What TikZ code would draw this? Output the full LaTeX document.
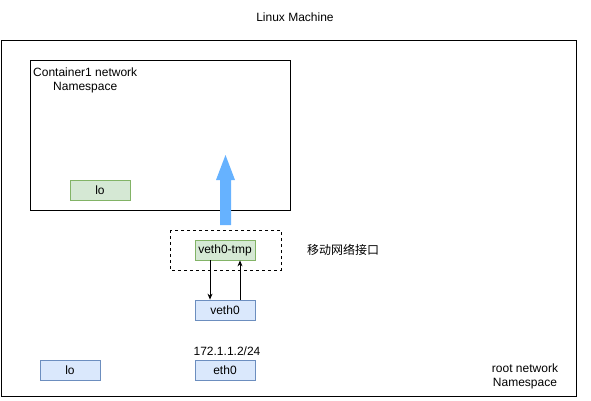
\documentclass[tikz,border=0pt]{standalone}
\usepackage{fontspec}
\setmainfont{Liberation Sans}
\newfontfamily\cjk{Noto Sans CJK SC}
\usetikzlibrary{arrows.meta}
\definecolor{greenfill}{HTML}{D5E8D4}
\definecolor{greenline}{HTML}{82B366}
\definecolor{bluefill}{HTML}{DAE8FC}
\definecolor{blueline}{HTML}{6C8EBF}
\definecolor{bigarrow}{HTML}{66B2FF}
\tikzset{
  ifbox/.style={draw=#1line,fill=#1fill,line width=.8pt,minimum width=60pt,minimum height=20pt,inner sep=0pt},
  lbl/.style={inner sep=0pt,align=center},
}
\begin{document}
\begin{tikzpicture}[x=1pt,y=-1pt,font=\fontsize{12}{14}\selectfont,>={Stealth[length=6pt,width=5pt]}]
\useasboundingbox (0,0) rectangle (591,401);
\node[lbl] (title) at (295,17) {Linux Machine};
\draw[line width=.8pt] (1,40) rectangle (576,396);
\draw[line width=.8pt] (30,60) rectangle (290,210);
\node[lbl,anchor=north west,align=center] (cns) at (33,68) {Container1 network\\Namespace};
\node[ifbox=green] (clo) at (100,190) {lo};
% move veth0-tmp into container
\fill[bigarrow] (220,225) -- (220,180) -- (216,180) -- (225.5,155) -- (235,180) -- (231,180) -- (231,225) -- cycle;
\draw[dashed,line width=.8pt] (170,230) rectangle (281,270);
\node[ifbox=green] (vtmp) at (225,250) {veth0-tmp};
\node[lbl,anchor=west] (move) at (307,250) {\cjk 移动网络接口};
\node[ifbox=blue] (veth) at (225,310) {veth0};
\draw[->,line width=.8pt] (vtmp.south-|210,0) -- (veth.north-|210,0);
\draw[->,line width=.8pt] (veth.north-|240,0) -- (vtmp.south-|240,0);
\node[lbl] (ip) at (227,351) {172.1.1.2/24};
\node[ifbox=blue] (eth) at (225,370) {eth0};
\node[ifbox=blue] (rlo) at (70,370) {lo};
\node[lbl] (rns) at (525,376) {root network\\Namespace};
\end{tikzpicture}
\end{document}
